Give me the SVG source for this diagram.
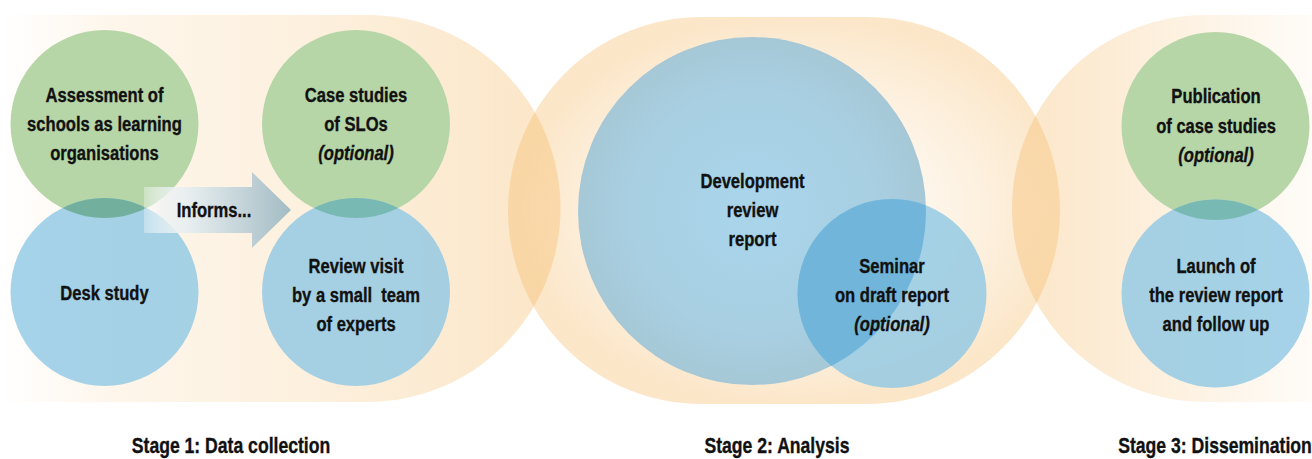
<svg xmlns="http://www.w3.org/2000/svg" width="1312" height="459" viewBox="0 0 1312 459">
<style>
.t{font-family:"Liberation Sans",Arial,sans-serif;font-weight:bold;font-size:21px;fill:#111;stroke:#111;stroke-width:0.35;text-anchor:middle}
.i{font-style:italic}
.s{font-size:22px}
.g{fill:#b7d6a8}
.b{fill:#8fc8e5;fill-opacity:0.8}
.lens1{fill:#72b09d}
.lens2{fill:#79b9b3}
</style>
<defs>
<linearGradient id="bg1" gradientUnits="userSpaceOnUse" x1="0" y1="0" x2="560" y2="0">
<stop offset="0" stop-color="#f4b45a" stop-opacity="0"/>
<stop offset="0.2" stop-color="#f4b45a" stop-opacity="0.12"/>
<stop offset="0.55" stop-color="#f4b45a" stop-opacity="0.2"/>
<stop offset="1" stop-color="#f4b45a" stop-opacity="0.34"/>
</linearGradient>
<radialGradient id="bg2" cx="0.52" cy="0.5" r="0.5">
<stop offset="0" stop-color="#f4b45a" stop-opacity="0.06"/>
<stop offset="0.5" stop-color="#f4b45a" stop-opacity="0.13"/>
<stop offset="0.85" stop-color="#f4b45a" stop-opacity="0.26"/>
<stop offset="1" stop-color="#f4b45a" stop-opacity="0.33"/>
</radialGradient>
<linearGradient id="bg3" gradientUnits="userSpaceOnUse" x1="1012" y1="0" x2="1312" y2="0">
<stop offset="0" stop-color="#f4b45a" stop-opacity="0.34"/>
<stop offset="0.5" stop-color="#f4b45a" stop-opacity="0.2"/>
<stop offset="1" stop-color="#f4b45a" stop-opacity="0.04"/>
</linearGradient>
<radialGradient id="bigb" cx="0.5" cy="0.5" r="0.5">
<stop offset="0" stop-color="#a9d5eb"/>
<stop offset="0.7" stop-color="#a8cfe2"/>
<stop offset="1" stop-color="#a6c8d6"/>
</radialGradient>
<linearGradient id="arr" gradientUnits="userSpaceOnUse" x1="144" y1="0" x2="291" y2="0">
<stop offset="0" stop-color="#ffffff" stop-opacity="0.3"/>
<stop offset="0.12" stop-color="#eef3f5" stop-opacity="0.7"/>
<stop offset="0.3" stop-color="#e8eef0" stop-opacity="1"/>
<stop offset="1" stop-color="#a3bcc4" stop-opacity="1"/>
</linearGradient>
<clipPath id="cg1"><circle cx="104.5" cy="124" r="94"/></clipPath>
<clipPath id="cg3"><circle cx="356" cy="124" r="94"/></clipPath>
<clipPath id="cg7"><circle cx="1215.5" cy="126" r="94"/></clipPath>
<clipPath id="cbig"><circle cx="752" cy="211" r="174"/></clipPath>
</defs>

<g id="stages">
<path id="stage1-bg" d="M0,15 H367 A193.5,193.5 0 0 1 367,402 H0 Z" fill="url(#bg1)"/>
<rect id="stage2-bg" x="508" y="17" width="552" height="387" rx="193.5" ry="193.5" fill="url(#bg2)"/>
<path id="stage3-bg" d="M1312,15 H1205.5 A193.5,193.5 0 0 0 1205.5,402 H1312 Z" fill="url(#bg3)"/>
</g>

<g id="n-assessment">
<circle class="g" cx="104.5" cy="124" r="94"/>
<g transform="translate(104.5 0) scale(0.79 1)">
<text class="t" x="0" y="102">Assessment of</text>
<text class="t" x="0" y="131">schools as learning</text>
<text class="t" x="0" y="160">organisations</text>
</g>
</g>

<g id="n-desk">
<circle class="b" cx="104.5" cy="292" r="94"/>
<circle class="lens1" cx="104.5" cy="292" r="94" clip-path="url(#cg1)"/>
<g transform="translate(104.5 0) scale(0.79 1)">
<text class="t" x="0" y="300">Desk study</text>
</g>
</g>

<g id="n-case">
<circle class="g" cx="356" cy="124" r="94"/>
<g transform="translate(356 0) scale(0.79 1)">
<text class="t" x="0" y="102">Case studies</text>
<text class="t" x="0" y="131">of SLOs</text>
<text class="t i" x="0" y="160">(optional)</text>
</g>
</g>

<g id="n-review">
<circle class="b" cx="356" cy="292" r="94"/>
<circle class="lens2" cx="356" cy="292" r="94" clip-path="url(#cg3)"/>
<g transform="translate(356 0) scale(0.79 1)">
<text class="t" x="0" y="273">Review visit</text>
<text class="t" x="0" y="302" xml:space="preserve">by a small  team</text>
<text class="t" x="0" y="331">of experts</text>
</g>
</g>

<g id="n-development">
<circle cx="752" cy="211" r="174" fill="url(#bigb)"/>
<g transform="translate(752.5 0) scale(0.79 1)">
<text class="t" x="0" y="188">Development</text>
<text class="t" x="0" y="217">review</text>
<text class="t" x="0" y="246">report</text>
</g>
</g>

<g id="n-seminar">
<circle class="b" cx="892" cy="293.5" r="94.5"/>
<circle cx="892" cy="293.5" r="94.5" fill="#71b6da" clip-path="url(#cbig)"/>
<g transform="translate(892 0) scale(0.79 1)">
<text class="t" x="0" y="273">Seminar</text>
<text class="t" x="0" y="302">on draft report</text>
<text class="t i" x="0" y="331">(optional)</text>
</g>
</g>

<g id="n-publication">
<circle class="g" cx="1215.5" cy="126" r="94"/>
<g transform="translate(1216 0) scale(0.79 1)">
<text class="t" x="0" y="103">Publication</text>
<text class="t" x="0" y="133">of case studies</text>
<text class="t i" x="0" y="162">(optional)</text>
</g>
</g>

<g id="n-launch">
<circle class="b" cx="1215.5" cy="293.5" r="94"/>
<circle class="lens2" cx="1215.5" cy="293.5" r="94" clip-path="url(#cg7)"/>
<g transform="translate(1216 0) scale(0.79 1)">
<text class="t" x="0" y="273">Launch of</text>
<text class="t" x="0" y="302">the review report</text>
<text class="t" x="0" y="331">and follow up</text>
</g>
</g>

<g id="connectors">
<path d="M144,187 H252 V172 L291,210 L252,248 V233 H144 Z" fill="url(#arr)"/>
<g transform="translate(214 0) scale(0.79 1)">
<text class="t" x="0" y="217">Informs...</text>
</g>
</g>

<g id="labels">
<g transform="translate(231 0) scale(0.8 1)"><text class="t s" x="0" y="453">Stage 1: Data collection</text></g>
<g transform="translate(777 0) scale(0.8 1)"><text class="t s" x="0" y="453">Stage 2: Analysis</text></g>
<g transform="translate(1215 0) scale(0.8 1)"><text class="t s" x="0" y="453">Stage 3: Dissemination</text></g>
</g>
</svg>
